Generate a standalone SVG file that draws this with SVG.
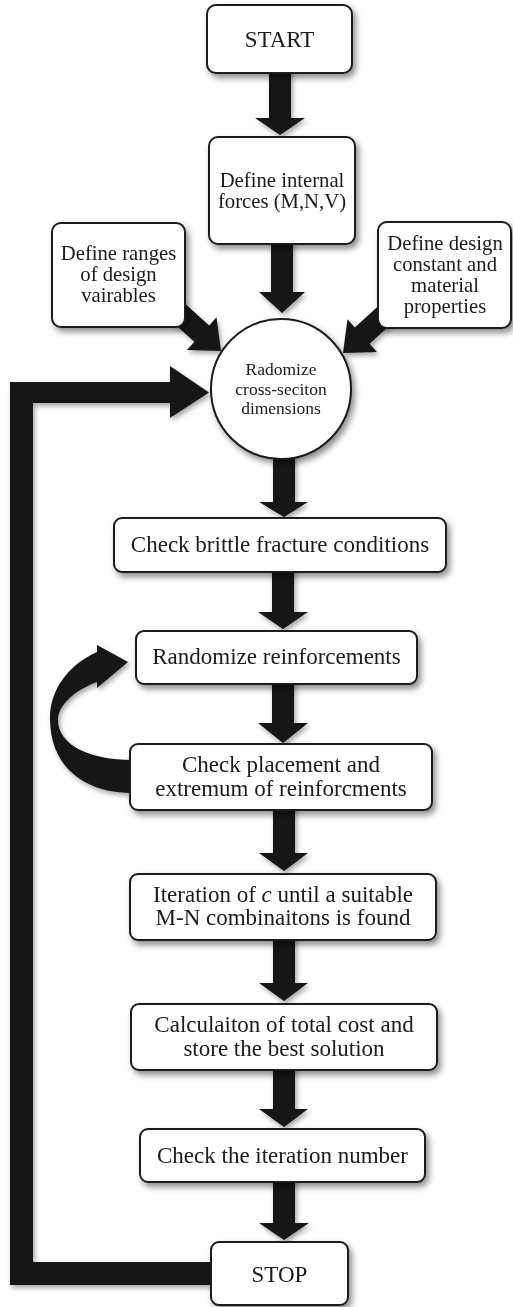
<svg xmlns="http://www.w3.org/2000/svg" width="513" height="1307" viewBox="0 0 513 1307">
<defs>
<filter id="sh" x="-20%" y="-20%" width="140%" height="150%">
<feDropShadow dx="3" dy="4" stdDeviation="3" flood-color="#000" flood-opacity="0.45"/>
</filter>
<filter id="sh2" x="-20%" y="-20%" width="140%" height="140%">
<feDropShadow dx="2" dy="3" stdDeviation="2.5" flood-color="#000" flood-opacity="0.35"/>
</filter>
</defs>
<style>
.box{fill:#fff;stroke:#1a1a1a;stroke-width:2}
.t{font-family:"Liberation Serif","Times New Roman",serif;font-size:23px;fill:#1a1a1a;text-anchor:middle}
.s{font-size:20.7px}
.c{font-size:17.5px}
.a{fill:#161616}
</style>
<rect width="513" height="1307" fill="#fff"/>
<g id="connectors" filter="url(#sh2)">
<path class="a" d="M211,1262 L33,1262 L33,403 L170,403 L170,418 L209,392.5 L170,366 L170,382 L10,382 L10,1285 L211,1285 Z"/>
<polygon class="a" points="269,60 291,60 291,118 305,118 280,135 255,118 269,118"/>
<polygon class="a" points="271,230 293,230 293,292 305,292 282,313 259,292 271,292"/>
<polygon class="a" points="273,440 295,440 295,502 308,502 284,517 259,502 273,502"/>
<polygon class="a" points="272,560 294,560 294,612 308,612 283,629 258,612 272,612"/>
<polygon class="a" points="272,670 294,670 294,723 308,723 283,743 258,723 272,723"/>
<polygon class="a" points="273,800 295,800 295,853 308,853 284,871 259,853 273,853"/>
<polygon class="a" points="273,930 295,930 295,983 308,983 284,1001 259,983 273,983"/>
<polygon class="a" points="273,1060 295,1060 295,1109 308,1109 284,1127 259,1109 273,1109"/>
<polygon class="a" points="273,1170 295,1170 295,1223 309,1223 284,1240 259,1223 273,1223"/>
<polygon class="a" points="179.4,298.7 209.2,325.5 216.5,317.3 221,351 187,350 194.4,341.7 164.6,314.9"/>
<polygon class="a" points="384.4,300.6 354.8,327.5 347.5,319.3 343,353 376.9,351.9 369.6,343.7 399.2,316.8"/>
<path class="a" d="M132,793 C88,793 50,770 50,718 C50,690 68,665 97,652 L97,645 L128,662 L97,688 L97,682 C75,690 58,705 58,720 C58,745 90,760 132,760 Z"/>
</g>
<g id="start" filter="url(#sh)"><rect class="box" x="207" y="5" width="145" height="68" rx="9"/><text class="t" x="279.5" y="47">START</text></g>
<g id="internal" filter="url(#sh)"><rect class="box" x="209" y="137" width="146" height="107" rx="9"/><text class="t s" x="282" y="187">Define internal</text><text class="t s" x="282" y="208">forces (M,N,V)</text></g>
<g id="ranges" filter="url(#sh)"><rect class="box" x="52" y="223" width="133" height="104" rx="9"/><text class="t s" x="118.5" y="260">Define ranges</text><text class="t s" x="118.5" y="281">of design</text><text class="t s" x="118.5" y="302">vairables</text></g>
<g id="constants" filter="url(#sh)"><rect class="box" x="378" y="222" width="133" height="106" rx="9"/><text class="t s" x="445" y="250">Define design</text><text class="t s" x="445" y="271">constant and</text><text class="t s" x="445" y="292">material</text><text class="t s" x="445" y="313">properties</text></g>
<g id="dims" filter="url(#sh)"><circle class="box" cx="281" cy="389" r="70"/><text class="t c" x="281" y="375">Radomize</text><text class="t c" x="281" y="394.5">cross-seciton</text><text class="t c" x="281" y="414">dimensions</text></g>
<g id="brittle" filter="url(#sh)"><rect class="box" x="114" y="518" width="332" height="54" rx="8"/><text class="t" x="280" y="552">Check brittle fracture conditions</text></g>
<g id="reinf" filter="url(#sh)"><rect class="box" x="136" y="631" width="281" height="53" rx="8"/><text class="t" x="276.5" y="664">Randomize reinforcements</text></g>
<g id="placement" filter="url(#sh)"><rect class="box" x="130" y="744" width="302" height="66" rx="8"/><text class="t" x="281" y="772">Check placement and</text><text class="t" x="281" y="796">extremum of reinforcments</text></g>
<g id="iteration" filter="url(#sh)"><rect class="box" x="130" y="874" width="306" height="66" rx="8"/><text class="t" x="283" y="902">Iteration of <tspan font-style="italic">c</tspan> until a suitable</text><text class="t" x="283" y="925">M-N combinaitons is found</text></g>
<g id="cost" filter="url(#sh)"><rect class="box" x="131" y="1004" width="306" height="66" rx="8"/><text class="t" x="284" y="1032">Calculaiton of total cost and</text><text class="t" x="284" y="1056">store the best solution</text></g>
<g id="checkiter" filter="url(#sh)"><rect class="box" x="140" y="1129" width="285" height="53" rx="8"/><text class="t" x="282.5" y="1163">Check the iteration number</text></g>
<g id="stop" filter="url(#sh)"><rect class="box" x="211" y="1242" width="137" height="63" rx="8"/><text class="t" x="279.5" y="1282">STOP</text></g>
</svg>
